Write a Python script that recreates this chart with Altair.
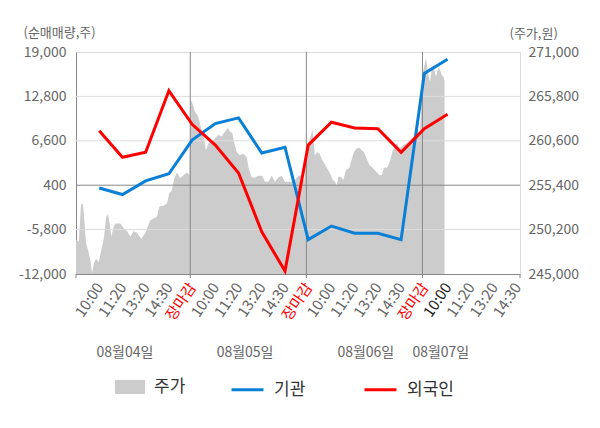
import json
import altair as alt
import pandas as pd

FONT = "Noto Sans CJK KR"

# ---- data ----
time_labels = ["10:00", "11:20", "13:20", "14:30", "장마감",
               "10:00", "11:20", "13:20", "14:30", "장마감",
               "10:00", "11:20", "13:20", "14:30", "장마감",
               "10:00", "11:20", "13:20", "14:30"]
slots = list(range(1, 17))
inst_vals = [0, -900, 1000, 2000, 6700, 9000, 9800, 4900, 5700,
             -7200, -5300, -6300, -6300, -7200, 16000, 18000]
foreign_vals = [8000, 4300, 5000, 13600, 8900, 6000, 2100, -6100, -11600,
                6000, 9200, 8400, 8300, 5000, 8300, 10300]

price_pos = [0.00, 0.12, 0.22, 0.30, 0.37, 0.43, 0.52, 0.62, 0.69, 0.76, 0.86, 0.98,
             1.09, 1.19, 1.30, 1.38, 1.45, 1.52, 1.62, 1.69, 1.91, 2.05, 2.20, 2.34,
             2.48, 2.63, 2.81, 2.98, 3.20, 3.35, 3.49, 3.59, 3.78, 3.92, 4.02, 4.13,
             4.23, 4.35, 4.49, 4.64, 4.78, 4.88, 4.93, 5.01, 5.12, 5.24, 5.34, 5.44,
             5.53, 5.59, 5.70, 5.84, 5.99, 6.13, 6.27, 6.42, 6.53, 6.63, 6.73, 6.82,
             6.92, 7.06, 7.20, 7.35, 7.45, 7.57, 7.71, 7.85, 8.02, 8.14, 8.28, 8.43,
             8.57, 8.71, 8.86, 9.00, 9.14, 9.29, 9.43, 9.57, 9.72, 9.83, 9.94, 10.06,
             10.18, 10.29, 10.39, 10.48, 10.58, 10.68, 10.80, 10.94, 11.06, 11.15, 11.23,
             11.30, 11.40, 11.51, 11.63, 11.77, 11.87, 11.97, 12.09, 12.20, 12.30, 12.40,
             12.52, 12.63, 12.78, 12.92, 13.06, 13.17, 13.26, 13.41, 13.52, 13.64, 13.81,
             13.95, 14.10, 14.24, 14.38, 14.53, 14.67, 14.81, 14.93, 15.07, 15.17, 15.25,
             15.32, 15.39, 15.50, 15.60, 15.68, 15.75, 15.82, 15.87]
price_val = [249000, 248800, 253300, 253100, 250900, 248600, 247800, 246600, 245100, 246100, 246800, 246400,
             247800, 249000, 251700, 252000, 250900, 249400, 250500, 250900, 250900, 250400, 250000, 249400,
             250000, 249800, 249100, 249800, 251300, 251500, 251700, 252900, 253000, 253300, 254500, 254800,
             256200, 256900, 256200, 256600, 256900, 256600, 265500, 265000, 264000, 263600, 262600, 261500,
             260700, 259500, 260300, 260500, 260900, 261300, 261100, 261700, 262100, 261700, 261500, 260300,
             259300, 258900, 259100, 258700, 257200, 256300, 256300, 256500, 256500, 255800, 255800, 256500,
             255800, 256300, 256500, 255800, 255800, 255800, 256000, 256500, 256500, 255800, 260100, 260700,
             261900, 258900, 259300, 259100, 258500, 258000, 257400, 256800, 256000, 255800, 255400,
             256400, 256400, 256000, 257200, 257400, 258400, 259300, 259700, 259800, 259500, 259300,
             258500, 257800, 257400, 257000, 256600, 256600, 257400, 257500, 258200, 259500, 260300,
             259700, 260100, 260300, 260700, 261100, 261900, 261300, 268500, 270300, 268300, 267500,
             269100, 269500, 268100, 269100, 268900, 268300, 268100, 267700]

day_labels = ["08월04일", "08월05일", "08월06일", "08월07일"]
day_label_pos = [2.11, 7.28, 12.48, 15.71]
day_bounds = [4.92, 9.92, 14.92]
x_domain = [0, 19.12]
left_ticks = [-12000, -5800, 400, 6600, 12800, 19000]
right_ticks = [245000, 250200, 255400, 260600, 265800, 271000]
minor_grid = [-5800, 6600, 12800]
major_grid = [400]

W, H = 444, 222
GRAY_TXT = "#666666"
AXIS_GRAY = "#888888"

label_expr = json.dumps([""] + time_labels, ensure_ascii=False) + "[datum.value]"
close_slots = [i + 1 for i, t in enumerate(time_labels) if t == "장마감"]
label_color = {
    "condition": [
        {"test": "indexof(%s, datum.value) >= 0" % json.dumps(close_slots), "value": "#ff0000"},
        {"test": "datum.value == 16", "value": "#222222"},
    ],
    "value": GRAY_TXT,
}

xscale = alt.Scale(domain=x_domain, nice=False, zero=False)
yleft = alt.Scale(domain=[-12000, 19000], nice=False, zero=False)
yright = alt.Scale(domain=[245000, 271000], nice=False, zero=False)

x_axis = alt.Axis(
    values=list(range(1, len(time_labels) + 1)), labelExpr=label_expr, ticks=False,
    grid=False, domainColor=AXIS_GRAY, labelAngle=-56, labelAlign="right",
    labelBaseline="middle", labelPadding=10, labelOverlap=False, labelFlush=False,
    labelBound=False, labelFont=FONT, labelFontSize=15, labelColor=label_color, title=None)

left_axis = alt.Axis(
    orient="left", values=left_ticks, labelExpr="replace(format(datum.value, ','), '\u2212', '-')",
    grid=False, ticks=False,
    domainColor=AXIS_GRAY, labelFont=FONT, labelFontSize=14, labelColor=GRAY_TXT,
    labelPadding=10, title="(순매매량,주)", titleAngle=0, titleAlign="left",
    titleBaseline="middle", titleX=-53, titleY=-20, titleFont=FONT,
    titleFontSize=13, titleFontWeight="normal", titleColor=GRAY_TXT)

right_axis = alt.Axis(
    orient="right", values=right_ticks, format=",d", grid=False, ticks=False,
    domainColor="#dddddd", labelFont=FONT, labelFontSize=14, labelColor=GRAY_TXT,
    labelPadding=8, title="(주가,원)", titleAngle=0, titleAlign="left",
    titleBaseline="middle", titleX=-11, titleY=-19, titleFont=FONT,
    titleFontSize=13, titleFontWeight="normal", titleColor=GRAY_TXT)

price_df = pd.DataFrame({"s": price_pos, "p": price_val, "series": "주가"})
lines_df = pd.DataFrame({
    "s": slots + slots,
    "v": inst_vals + foreign_vals,
    "series": ["기관"] * len(slots) + ["외국인"] * len(slots),
})

X = alt.X("s:Q", scale=xscale, axis=x_axis)

area = alt.Chart(price_df).mark_area(interpolate="linear", fillOpacity=1, clip=True).encode(
    x=X,
    y=alt.Y("p:Q", scale=yright, stack=False, axis=right_axis),
    y2=alt.value(H),
    fill=alt.Fill("series:N", scale=alt.Scale(domain=["주가"], range=["#cccccc"]),
                  legend=alt.Legend(orient="none", legendX=39, legendY=320, title=None,
                                    direction="horizontal",
                                    symbolType="M-1,-0.47H1V0.47H-1Z", symbolSize=900,
                                    symbolStrokeWidth=0, labelOffset=9, padding=0,
                                    labelFont=FONT, labelFontSize=17, labelColor="#333333")),
)

grid_minor = alt.Chart(pd.DataFrame({"v": minor_grid})).mark_rule(color="#dddddd", strokeWidth=1).encode(
    y=alt.Y("v:Q", scale=yleft, axis=left_axis), x=alt.value(0), x2=alt.value(W))
grid_major = alt.Chart(pd.DataFrame({"v": major_grid})).mark_rule(color=AXIS_GRAY, strokeWidth=1).encode(
    y=alt.Y("v:Q", scale=yleft, axis=left_axis), x=alt.value(0), x2=alt.value(W))
vgrid = alt.Chart(pd.DataFrame({"s": day_bounds})).mark_rule(color=AXIS_GRAY, strokeWidth=1).encode(
    x=X, y=alt.value(0), y2=alt.value(H + 4))
end_ticks = alt.Chart(pd.DataFrame({"s": x_domain})).mark_rule(color=AXIS_GRAY, strokeWidth=1).encode(
    x=X, y=alt.value(H), y2=alt.value(H + 4))

lines = alt.Chart(lines_df).mark_line(strokeWidth=3, interpolate="linear").encode(
    x=X,
    y=alt.Y("v:Q", scale=yleft, axis=left_axis),
    color=alt.Color("series:N", scale=alt.Scale(domain=["기관", "외국인"], range=["#0a7fd6", "#ff0000"]),
                    legend=alt.Legend(orient="none", legendX=154, legendY=320, title=None,
                                      direction="horizontal", symbolType="stroke",
                                      symbolSize=1024, symbolStrokeWidth=3, labelOffset=9,
                                      columnPadding=52, padding=0,
                                      labelFont=FONT, labelFontSize=17, labelColor="#333333")),
)

days = alt.Chart(pd.DataFrame({"s": day_label_pos, "t": day_labels})).mark_text(
    font=FONT, fontSize=14, color=GRAY_TXT).encode(
    x=X, y=alt.value(H + 79), text="t:N")

inner = alt.layer(grid_minor, grid_major, vgrid, end_ticks, lines, days)

chart = alt.layer(area, inner).resolve_scale(y="independent").properties(
    width=W, height=H,
    autosize=alt.AutoSizeParams(type="none"),
    padding={"left": 68, "top": 44, "right": 72, "bottom": 146},
).configure_view(fill="#f5f5f5", strokeWidth=0).configure_axisX(labelOverlap=False).configure(background="white")

chart.save("out.html", embed_options={"renderer": "svg", "actions": False})
